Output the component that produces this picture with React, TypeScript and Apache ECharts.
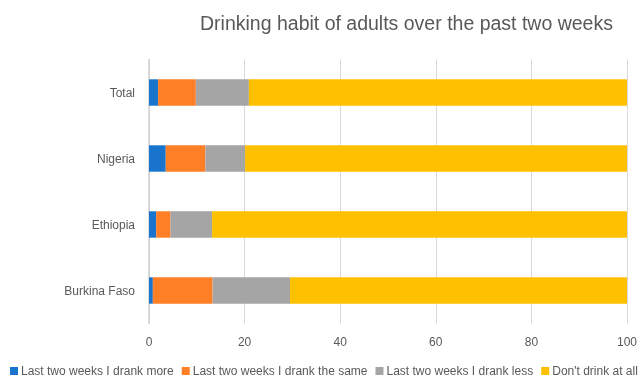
import React, { useEffect, useRef } from "react";
import * as echarts from "echarts";

const categories = ["Burkina Faso", "Ethiopia", "Nigeria", "Total"];
const seriesNames = [
  "Last two weeks I drank more",
  "Last two weeks I drank the same",
  "Last two weeks I drank less",
  "Don't drink at all",
];
const drankMore = [0.8, 1.5, 3.5, 1.9];
const drankSame = [12.5, 3.0, 8.3, 7.9];
const drankLess = [16.2, 8.7, 8.3, 11.1];
const dontDrink = [70.5, 86.8, 79.9, 79.1];
const xTicks = { min: 0, max: 100, interval: 20 };
const colors = ["#1874CD", "#FF7F27", "#A5A5A5", "#FFC000"];

const FONT = "Liberation Sans, Arial, sans-serif";

export default function App() {
  const ref = useRef<HTMLDivElement>(null);
  useEffect(() => {
    if (!ref.current) return;
    const chart = echarts.init(ref.current, undefined, { renderer: "svg" });
    const values = [drankMore, drankSame, drankLess, dontDrink];
    chart.setOption({
      animation: false,
      textStyle: { fontFamily: FONT },
      title: {
        text: "Drinking habit of adults over the past two weeks",
        left: 195,
        top: 8,
        textStyle: { fontSize: 19.5, fontWeight: "normal", color: "#595959", fontFamily: FONT },
      },
      legend: {
        left: 10,
        top: 365,
        width: 630,
        padding: 0,
        itemWidth: 8,
        itemHeight: 8,
        itemGap: 8,
        icon: "rect",
        textStyle: { fontSize: 12, color: "#595959", fontFamily: FONT, padding: [0, 0, 0, -2] },
        data: seriesNames,
      },
      grid: { left: 149, right: 11, top: 59.5, bottom: 57.5, containLabel: false },
      xAxis: {
        type: "value",
        min: xTicks.min,
        max: xTicks.max,
        interval: xTicks.interval,
        axisLine: { show: false },
        axisTick: { show: false },
        splitLine: { lineStyle: { color: "#D9D9D9", width: 1 } },
        axisLabel: { color: "#595959", fontSize: 12, margin: 12, fontFamily: FONT },
      },
      yAxis: {
        type: "category",
        data: categories,
        axisTick: { show: false },
        axisLine: { lineStyle: { color: "#D0D0D0", width: 1.5 } },
        axisLabel: { color: "#595959", fontSize: 12, margin: 14, fontFamily: FONT },
      },
      series: seriesNames.map((name, i) => ({
        name,
        type: "bar",
        stack: "total",
        barWidth: "40%",
        data: values[i],
        itemStyle: { color: colors[i] },
      })),
    });
    return () => chart.dispose();
  }, []);
  return (
    <div
      ref={ref}
      style={{ position: "fixed", left: 0, top: 0, width: 640, height: 381 }}
    />
  );
}
